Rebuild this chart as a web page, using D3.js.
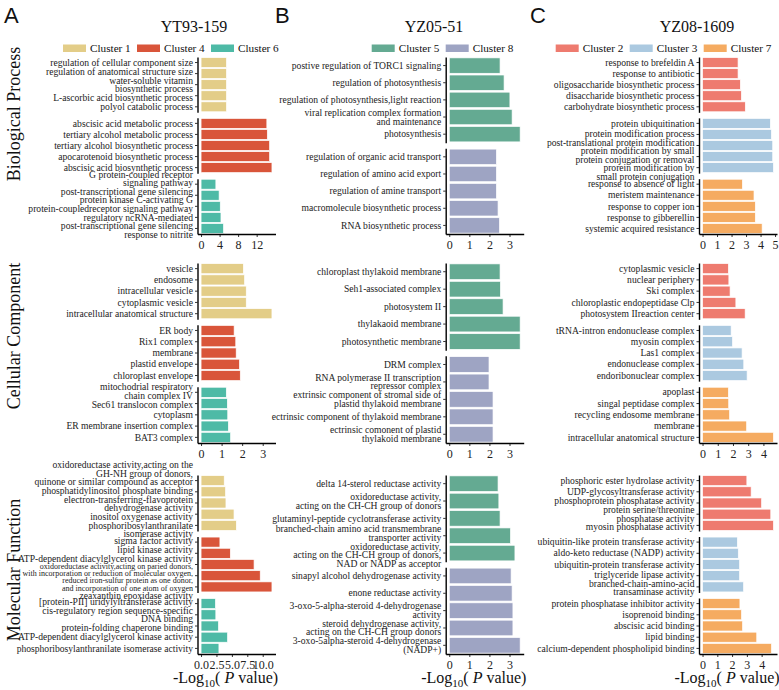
<!DOCTYPE html>
<html><head><meta charset="utf-8">
<script src="https://cdn.jsdelivr.net/npm/d3@7"></script>
<style>body{margin:0;background:#fff} svg{display:block}</style>
</head><body><svg id="chart" width="779" height="690"></svg>
<script>
// ---------------- data ----------------
const panelLetters = ["A", "B", "C"];
const panelNames = ["YT93-159", "YZ05-51", "YZ08-1609"];
const categories = ["Biological Process", "Cellular Component", "Molecular Function"];

const clustersA = ["Cluster 1", "Cluster 4", "Cluster 6"];
const clustersB = ["Cluster 5", "Cluster 8"];
const clustersC = ["Cluster 2", "Cluster 3", "Cluster 7"];

const colorsA = ["#E3CD88", "#D9553A", "#4EBAA6"];
const colorsB = ["#64AA92", "#9EA4C3"];
const colorsC = ["#EE7B6F", "#ABC9E0", "#F5AB61"];

// Panel A
const termsA_BP = [
  ["regulation of cellular component size", "regulation of anatomical structure size", "water-soluble vitamin\nbiosynthetic process", "L-ascorbic acid biosynthetic process", "polyol catabolic process"],
  ["abscisic acid metabolic process", "tertiary alcohol metabolic process", "tertiary alcohol biosynthetic process", "apocarotenoid biosynthetic process", "abscisic acid biosynthetic process"],
  ["G protein-coupled receptor\nsignaling pathway", "post-transcriptional gene silencing", "protein kinase C-activating G\nprotein-coupledreceptor signaling pathway", "regulatory ncRNA-mediated\npost-transcriptional gene silencing", "response to nitrite"]
];
const valuesA_BP = [[5.5, 5.5, 5.5, 5.5, 5.5], [14.2, 14.3, 14.8, 14.8, 15.3], [3.2, 3.9, 4.15, 4.3, 4.85]];
const termsA_CC = [
  ["vesicle", "endosome", "intracellular vesicle", "cytoplasmic vesicle", "intracellular anatomical structure"],
  ["ER body", "Rix1 complex", "membrane", "plastid envelope", "chloroplast envelope"],
  ["mitochodrial respiratory\nchain complex IV", "Sec61 translocon complex", "cytoplasm", "ER membrane insertion complex", "BAT3 complex"]
];
const valuesA_CC = [[2.06, 2.12, 2.2, 2.2, 3.45], [1.61, 1.69, 1.71, 1.87, 1.91], [1.23, 1.28, 1.3, 1.33, 1.44]];
const termsA_MF = [
  ["oxidoreductase activity,acting on the\nGH-NH group of donors,\nquinone or similar compound as acceptor", "phosphatidylinositol phosphate binding", "electron-transferring-flavoprotein\ndehydrogenase activity", "inositol oxygenase activity", "phosphoribosylanthranilate\nisomerase activity"],
  ["sigma factor activity", "lipid kinase activity", "ATP-dependent diacylglycerol kinase activity", "oxidoreductase activity,acting on paried donors,\nwith incorporation or reduction of molecular oxygen,\nreduced iron-sulfur protein as one donor,\nand incorporation of one atom of oxygen", "zeaxanthin epoxidase activity"],
  ["[protein-PII] uridylyltransferase activity", "cis-regulatory region sequence-specific\nDNA binding", "protein-folding chaperone binding", "ATP-dependent diacylglycerol kinase activity", "phosphoribosylanthranilate isomerase activity"]
];
const valuesA_MF = [[3.76, 3.98, 4.04, 5.35, 5.73], [3.06, 4.75, 8.6, 9.6, 11.5], [2.34, 2.4, 2.83, 4.3, 2.9]];

// Panel B
const termsB_BP = [
  ["postive regulation of TORC1 signaling", "regulation of photosynthesis", "regulation of photosynthesis,light reaction", "viral replication complex formation\nand maintenance", "photosynthesis"],
  ["regulation of organic acid transport", "regulation of amino acid export", "regulation of amine transport", "macromolecule biosynthetic process", "RNA biosynthetic process"]
];
const valuesB_BP = [[2.53, 2.73, 3.02, 3.13, 3.53], [2.35, 2.35, 2.35, 2.43, 2.5]];
const termsB_CC = [
  ["chloroplast thylakoid membrane", "Seh1-associated complex", "photosystem II", "thylakaoid membrane", "photosynthetic membrane"],
  ["DRM complex", "RNA polymerase II transcription\nrepressor complex", "extrinsic component of stromal side of\nplastid thylakoid membrane", "ectrinsic component of thylakoid membrane", "ectrinsic comonent of plastid\nthylakoid membrane"]
];
const valuesB_CC = [[2.53, 2.55, 2.68, 3.53, 3.53], [1.98, 1.98, 2.18, 2.18, 2.18]];
const termsB_MF = [
  ["delta 14-sterol reductase activity", "oxidoreductase activity,\nacting on the CH-CH group of donors", "glutaminyl-peptide cyclotransferase activity", "branched-chain amino acid transmembrane\ntransporter activity", "oxidoreductase activity,\nacting on the CH-CH group of donors,\nNAD or NADP as acceptor"],
  ["sinapyl alcohol dehydrogenase activity", "enone reductase activity", "3-oxo-5-alpha-steroid 4-dehydrogenase\nactivity", "steroid dehydrogenase activity,\nacting on the CH-CH group donors", "3-oxo-5alpha-steroid 4-dehydrogenase\n(NADP+)"]
];
const valuesB_MF = [[2.43, 2.47, 2.53, 3.05, 3.27], [3.08, 3.13, 3.17, 3.17, 3.53]];

// Panel C
const termsC_BP = [
  ["response to brefeldin A", "response to antibiotic", "oligosaccharide biosynthetic process", "disaccharide biosynthetic process", "carbohydrate biosynthetic process"],
  ["protein ubiquitination", "protein modification process", "post-translational protein modification", "protein modification by small\nprotein conjugation or removal", "prorein modification by\nsmall protein conjugation"],
  ["response to absence of light", "meristem maintenance", "response to copper ion", "response to gibberellin", "systemic acquired resistance"]
];
const valuesC_BP = [[2.45, 2.45, 2.61, 2.68, 2.95], [4.68, 4.75, 4.84, 4.84, 4.89], [2.75, 3.55, 3.64, 3.64, 4.11]];
const termsC_CC = [
  ["cytoplasmic vesicle", "nuclear periphery", "Ski complex", "chloroplastic endopeptidase Clp", "photosystem IIreaction  center"],
  ["tRNA-intron endonuclease complex", "myosin complex", "Las1 complex", "endonuclease complex", "endoribonuclear complex"],
  ["apoplast", "singal peptidase complex", "recycling endosome membrane", "membrane", "intracellular anatomical structure"]
];
const valuesC_CC = [[1.7, 1.73, 1.81, 2.19, 2.8], [1.88, 1.97, 2.6, 2.71, 2.93], [1.7, 1.72, 1.78, 2.9, 4.66]];
const termsC_MF = [
  ["phosphoric ester hydrolase activity", "UDP-glycosyltransferase activity", "phosphoprotein phosphatase activity", "protein serine/threonine\nphosphatase activity", "myosin phosphatase activity"],
  ["ubiquitin-like protein transferase activity", "aldo-keto reductase (NADP) activity", "ubiquitin-protein transferase activity", "triglyceride lipase activity", "branched-chain-amino-acid\ntransaminase activity"],
  ["protein phosphatase inhibitor activity", "isoprenoid binding", "abscisic acid binding", "lipid binding", "calcium-dependent phospholipid binding"]
];
const valuesC_MF = [[3.0, 3.29, 4.0, 4.62, 4.8], [2.36, 2.42, 2.51, 2.51, 2.78], [2.53, 2.64, 2.71, 3.67, 4.67]];

const ticksA = [[0, 4, 8, 12], [0, 1, 2, 3], [0, 2.5, 5, 7.5, 10]];
const ticksB = [[0, 1, 2, 3], [0, 1, 2, 3], [0, 1, 2, 3]];
const ticksC = [[0, 1, 2, 3, 4, 5], [0, 1, 2, 3, 4], [0, 1, 2, 3, 4]];

// ---------------- layout ----------------
const SERIF = "'Liberation Serif', 'Times New Roman', serif";
const SANS = "'Liberation Sans', Arial, sans-serif";
const axisX = [197.5, 445.7, 699];
const panelW = 78;
const rowTop = [57, 263, 475];
const rowBottom = [234, 443, 654];
const facetGap = 5.5;
const legendX = [63, 371.7, 555.7];
const titleX = [194, 434, 697];
const letterX = [4, 275, 530];

const panels = [
  { clusters: clustersA, colors: colorsA, terms: [termsA_BP, termsA_CC, termsA_MF], values: [valuesA_BP, valuesA_CC, valuesA_MF], ticks: ticksA },
  { clusters: clustersB, colors: colorsB, terms: [termsB_BP, termsB_CC, termsB_MF], values: [valuesB_BP, valuesB_CC, valuesB_MF], ticks: ticksB },
  { clusters: clustersC, colors: colorsC, terms: [termsC_BP, termsC_CC, termsC_MF], values: [valuesC_BP, valuesC_CC, valuesC_MF], ticks: ticksC }
];

const svg = d3.select("#chart");
svg.append("rect").attr("width", 779).attr("height", 690).attr("fill", "#fff");

// 1-D non-overlap placement of label blocks (pool adjacent violators)
function placeBlocks(blocks) {
  const clusters = [];
  const compute = cl => {
    let off = 0, s = 0;
    cl.idx.forEach(k => { s += blocks[k].c - off - blocks[k].h / 2; off += blocks[k].h; });
    cl.h = off; cl.top = s / cl.idx.length;
  };
  blocks.forEach((b, i) => {
    const cl = { idx: [i] }; compute(cl); clusters.push(cl);
    while (clusters.length > 1) {
      const a = clusters[clusters.length - 2], z = clusters[clusters.length - 1];
      if (a.top + a.h > z.top + 1e-6) {
        const m = { idx: a.idx.concat(z.idx) }; compute(m);
        clusters.splice(clusters.length - 2, 2, m);
      } else break;
    }
  });
  const tops = [];
  clusters.forEach(cl => { let o = cl.top; cl.idx.forEach(k => { tops[k] = o; o += blocks[k].h; }); });
  return tops;
}

panels.forEach((p, pi) => {
  const g = svg.append("g");
  const ax = axisX[pi];

  // panel letter
  g.append("text").attr("x", letterX[pi]).attr("y", 23).attr("font-family", SANS)
    .attr("font-size", 22).attr("fill", "#111").text(panelLetters[pi]);
  // title
  g.append("text").attr("x", titleX[pi]).attr("y", 32).attr("text-anchor", "middle")
    .attr("font-family", SERIF).attr("font-size", 16).attr("fill", "#111").text(panelNames[pi]);
  // legend
  p.clusters.forEach((c, ci) => {
    const lx = legendX[pi] + ci * 74;
    g.append("rect").attr("x", lx).attr("y", 44.5).attr("width", 23).attr("height", 7.5).attr("fill", p.colors[ci]);
    g.append("text").attr("x", lx + 27).attr("y", 52).attr("font-family", SERIF).attr("font-size", 11.2)
      .attr("fill", "#111").text(c);
  });

  categories.forEach((cat, ri) => {
    const terms = p.terms[ri], vals = p.values[ri];
    const M = d3.max(vals.flat());
    const x = d3.scaleLinear().domain([-0.05 * M, 1.05 * M]).range([ax, ax + panelW]);
    const n = terms.length;
    const fh = (rowBottom[ri] - rowTop[ri] - facetGap * (n - 1)) / n;

    terms.forEach((tl, fi) => {
      const fTop = rowTop[ri] + fi * (fh + facetGap);
      const y = d3.scaleBand().domain(d3.range(tl.length)).range([fTop, fTop + fh])
        .paddingInner(0.1).paddingOuter(0.05);
      const fg = g.append("g");
      fg.selectAll("rect.bar").data(vals[fi]).join("rect").attr("class", "bar")
        .attr("x", x(0)).attr("y", (d, i) => y(i))
        .attr("width", d => x(d) - x(0)).attr("height", y.bandwidth())
        .attr("fill", p.colors[fi]).attr("stroke", "#fff").attr("stroke-width", 0.7);

      const ya = fg.append("g").attr("transform", `translate(${ax},0)`)
        .call(d3.axisLeft(y).tickSize(2.5).tickSizeOuter(0).tickFormat(""));
      ya.select(".domain").attr("stroke", "#000").attr("stroke-width", 1.4);
      ya.selectAll(".tick line").attr("stroke", "#000").attr("stroke-width", 0.8);

      // labels
      const blocks = tl.map((t, i) => {
        const lines = t.split("\n");
        const fs = lines.length >= 4 ? 8 : 9.6;
        const lh = fs * 0.9;
        return { lines, fs, lh, c: y(i) + y.bandwidth() / 2, h: lines.length * lh };
      });
      const tops = placeBlocks(blocks);
      blocks.forEach((b, i) => {
        const t = fg.append("text").attr("text-anchor", "end").attr("font-family", SERIF)
          .attr("font-size", b.fs).attr("fill", "#222");
        b.lines.forEach((ln, j) => {
          t.append("tspan").attr("x", ax - 4.5)
            .attr("y", tops[i] + b.lh * (j + 0.5) + b.fs * 0.33).text(ln);
        });
      });
    });

    // x axis
    const isFrac = p.ticks[ri].some(v => v % 1 !== 0);
    const xa = g.append("g").attr("transform", `translate(0,${rowBottom[ri]})`)
      .call(d3.axisBottom(x).tickValues(p.ticks[ri]).tickSize(3).tickSizeOuter(0)
        .tickFormat(isFrac ? d3.format(".1f") : d3.format("d")));
    xa.select(".domain").attr("stroke", "#000").attr("stroke-width", 1.3);
    xa.selectAll(".tick line").attr("stroke", "#000").attr("stroke-width", 0.8);
    xa.selectAll(".tick text").attr("font-family", SERIF).attr("font-size", 12).attr("fill", "#222");
  });

  // x-axis title
  const xt = g.append("text").attr("x", ax - 24.5).attr("y", 683).attr("font-family", SERIF)
    .attr("font-size", 16).attr("fill", "#111");
  xt.append("tspan").text("-Log");
  xt.append("tspan").attr("font-size", 11).attr("dy", 4).text("10");
  xt.append("tspan").attr("dy", -4).text("( ");
  xt.append("tspan").attr("font-style", "italic").text("P");
  xt.append("tspan").text(" value)");
});

// category titles
const catY = [114, 336, 570];
categories.forEach((c, i) => {
  svg.append("text").attr("transform", `translate(20,${catY[i]}) rotate(-90)`)
    .attr("text-anchor", "middle").attr("font-family", SERIF).attr("font-size", 18)
    .attr("fill", "#111").text(c);
});
</script>
</body></html>
